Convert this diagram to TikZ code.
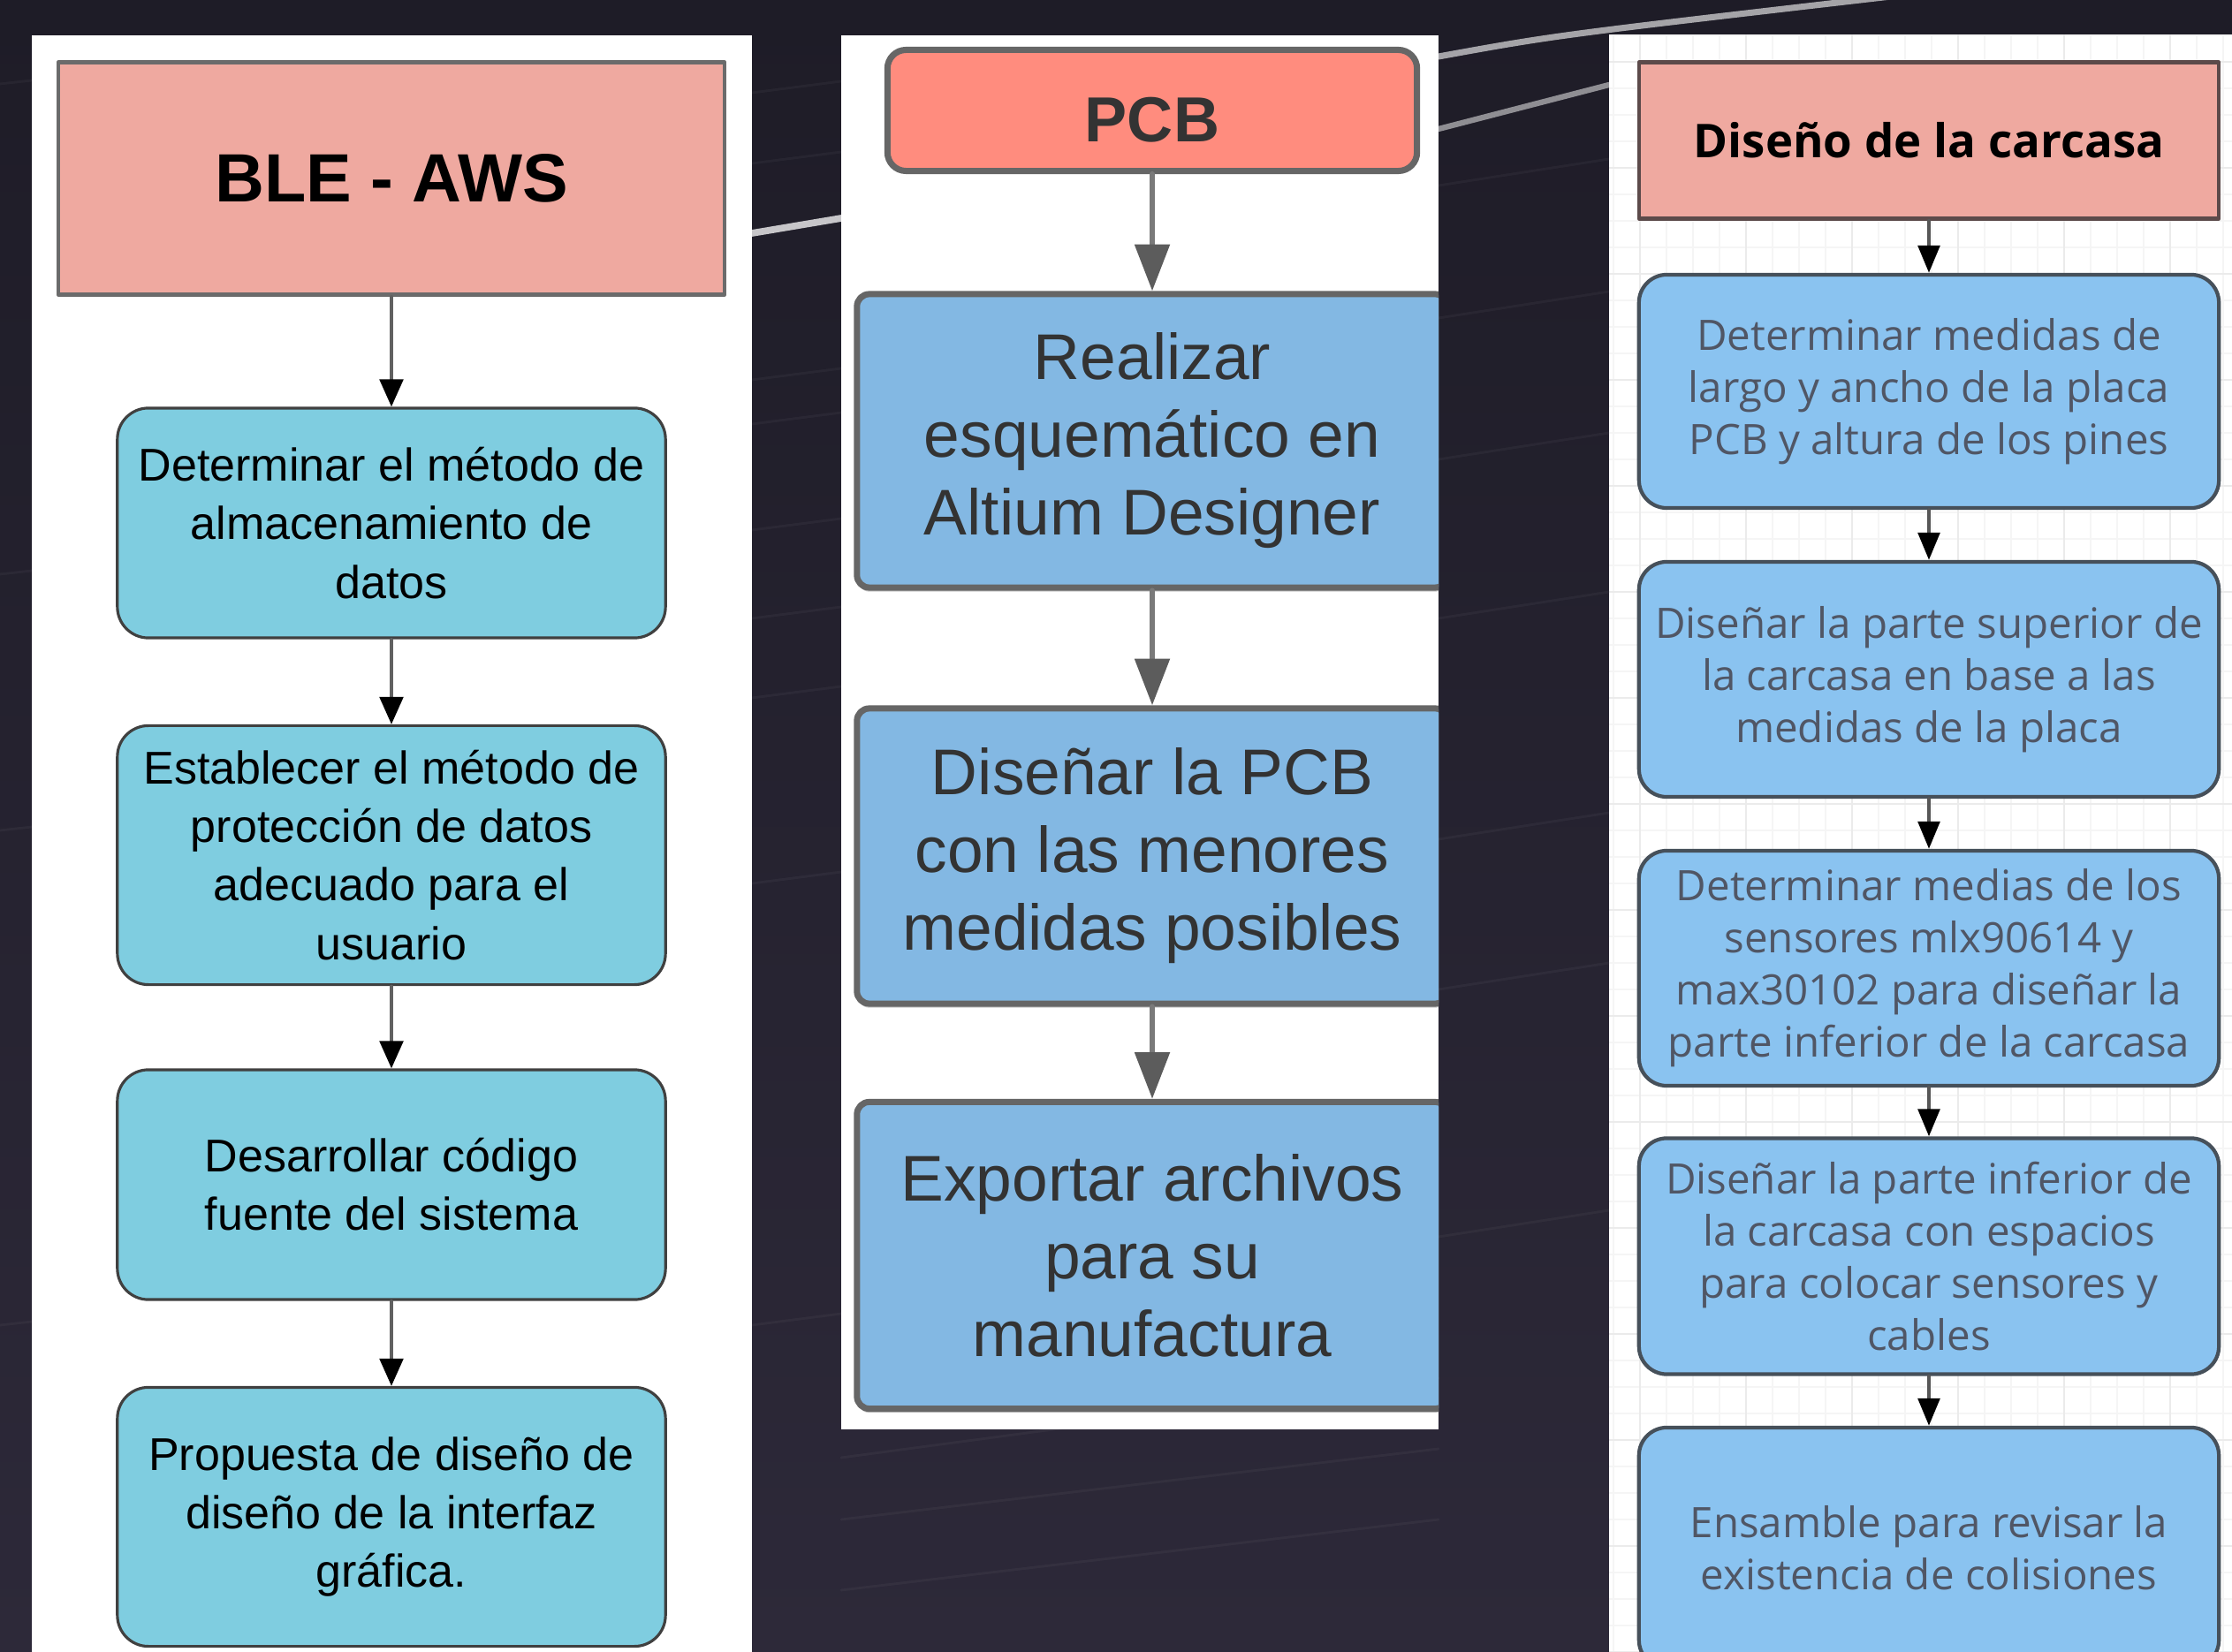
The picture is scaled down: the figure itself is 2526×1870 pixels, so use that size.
\documentclass[tikz,border=0pt]{standalone}
\usepackage{fontspec}
\setmainfont{Liberation Sans}
\newfontfamily\opensans{Open Sans}
\usetikzlibrary{arrows.meta,shadows}

\definecolor{fondo}{HTML}{1E1C27}
\definecolor{fondob}{HTML}{2D2939}
\definecolor{rosa}{HTML}{EFA9A0}
\definecolor{salmon}{HTML}{FF8C7E}
\definecolor{cian}{HTML}{7FCDE0}
\definecolor{azul}{HTML}{83B8E3}
\definecolor{celeste}{HTML}{8AC3F0}
\definecolor{borde}{HTML}{666666}
\definecolor{pizarra}{HTML}{46505A}
\definecolor{marron}{HTML}{5C4A4A}
\definecolor{texto}{HTML}{333333}
\definecolor{textoc}{HTML}{505665}

\tikzset{
  % columna BLE - AWS
  cabA/.style={draw=black!58, line width=1.2pt, fill=rosa, minimum width=7.54cm, minimum height=2.63cm,
    font=\bfseries\fontsize{22}{26}\selectfont},
  pasoA/.style={draw=black!75, line width=0.9pt, fill=cian, rounded corners=10pt, minimum width=6.2cm,
    align=center, font=\fontsize{14.8}{18.8}\selectfont},
  flechaA/.style={-{Triangle[length=8.8pt,width=7.6pt,color=black]}, draw=black!62, line width=0.9pt},
  % columna PCB
  cabB/.style={draw=borde, line width=2pt, fill=salmon, rounded corners=6pt, minimum width=5.99cm,
    minimum height=1.37cm, text height=20pt, text depth=0pt, text=texto,
    font=\bfseries\fontsize{20.5}{24}\selectfont},
  pasoB/.style={draw=borde, line width=2pt, fill=azul, rounded corners=4pt, minimum width=6.68cm,
    align=center, text=texto, font=\fontsize{20.8}{25}\selectfont,
    drop shadow={shadow xshift=0pt, shadow yshift=-1.3pt, fill=black!22, opacity=1}},
  flechaB/.style={-{Triangle[length=15pt,width=11pt,color=black!64]}, draw=black!52, line width=1.8pt},
  % columna carcasa
  cabC/.style={draw=marron, line width=1.2pt, fill=rosa, minimum width=6.56cm, minimum height=1.77cm,
    font=\opensans\bfseries\fontsize{15}{18}\selectfont},
  pasoC/.style={draw=pizarra, line width=1.2pt, fill=celeste, rounded corners=9pt, minimum width=6.56cm,
    align=center, text=textoc, font=\opensans\fontsize{13.5}{16.8}\selectfont},
  flechaC/.style={-{Triangle[length=8.8pt,width=7pt,color=black]}, draw=black!66, line width=1.1pt}
}

\begin{document}
\begin{tikzpicture}[x=0.01cm, y=-0.01cm, line join=round, line cap=round]
  \useasboundingbox (0,0) rectangle (2526,1870);
  \clip (0,0) rectangle (2526,1870);
  \shade[top color=fondo, bottom color=fondob] (0,0) rectangle (2526,1870);
  % estelas
  \foreach \xa/\ya/\xb/\yb in {0/95/36/91, 0/650/36/646, 0/940/36/936, 0/1500/36/1496,
      851/105/952/92, 851/185/952/172, 851/430/952/417, 851/480/952/467, 851/600/952/587,
      851/700/952/687, 851/790/952/777, 851/1000/952/987, 851/1500/952/1487,
      1628/210/1821/180, 1628/360/1821/330, 1628/520/1821/490, 1628/700/1821/670,
      1628/950/1821/920, 1628/1120/1821/1090, 1628/1400/1821/1370,
      952/1650/1628/1560, 952/1720/1628/1640, 952/1800/1628/1720}
    \draw[white, opacity=.04, line width=0.8pt] (\xa,\ya) -- (\xb,\yb);
  \draw[white, opacity=.75, line width=2.2pt] (851,264) -- (952,247);
  \draw[white, opacity=.6, line width=2pt] (1628,64) .. controls (1760,40) .. (2140,-4);
  \draw[white, opacity=.5, line width=1.8pt] (1628,146) -- (1821,96);
  % paneles
  \fill[white] (36,40) rectangle (851,1870);
  \fill[white] (952,40) rectangle (1628,1618);
  \fill[white] (1821,40) rectangle (2526,1870);
  \begin{scope}
    \clip (1821,40) rectangle (2526,1870);
    \foreach \gx in {1826,1856,...,2526} \draw[black!4, line width=0.5pt] (\gx,40) -- (\gx,1870);
    \foreach \gy in {40,70,...,1870} \draw[black!4, line width=0.5pt] (1821,\gy) -- (2526,\gy);
    \foreach \gx in {1856,1976,...,2526} \draw[black!8, line width=0.8pt] (\gx,40) -- (\gx,1870);
    \foreach \gy in {70,190,...,1870} \draw[black!8, line width=0.8pt] (1821,\gy) -- (2526,\gy);
  \end{scope}

  % BLE - AWS
  \node[cabA] (ble) at (443,202) {BLE - AWS};
  \node[pasoA, minimum height=2.6cm] (a1) at (443,592) {Determinar el método de\\almacenamiento de\\datos};
  \node[pasoA, minimum height=2.93cm] (a2) at (443,968) {Establecer el método de\\protección de datos\\adecuado para el\\usuario};
  \node[pasoA, minimum height=2.6cm] (a3) at (443,1341) {Desarrollar código\\fuente del sistema};
  \node[pasoA, minimum height=2.93cm] (a4) at (443,1717) {Propuesta de diseño de\\diseño de la interfaz\\gráfica.};
  \foreach \i/\j in {ble/a1, a1/a2, a2/a3, a3/a4}
    \draw[flechaA] (\i) -- (\j);

  % PCB
  \begin{scope}
    \clip (952,40) rectangle (1628,1618);
    \node[cabB] (pcb) at (1304,125) {PCB};
    \node[pasoB, minimum height=3.32cm] (b1) at (1304,499) {Realizar\\esquemático en\\Altium Designer};
    \node[pasoB, minimum height=3.34cm] (b2) at (1304,969) {Diseñar la PCB\\con las menores\\medidas posibles};
    \node[pasoB, minimum height=3.47cm] (b3) at (1304,1421) {Exportar archivos\\para su\\manufactura};
    \foreach \i/\j in {pcb/b1, b1/b2, b2/b3}
      \draw[flechaB] (\i) -- (\j);
  \end{scope}

  % Carcasa
  \node[cabC] (car) at (2183,159) {Diseño de la carcasa};
  \node[pasoC, minimum height=2.64cm] (c1) at (2183,443) {Determinar medidas de\\largo y ancho de la placa\\PCB y altura de los pines};
  \node[pasoC, minimum height=2.66cm] (c2) at (2183,769) {Diseñar la parte superior de\\la carcasa en base a las\\medidas de la placa};
  \node[pasoC, minimum height=2.66cm] (c3) at (2183,1096) {Determinar medias de los\\sensores mlx90614 y\\max30102 para diseñar la\\parte inferior de la carcasa};
  \node[pasoC, minimum height=2.67cm] (c4) at (2183,1422) {Diseñar la parte inferior de\\la carcasa con espacios\\para colocar sensores y\\cables};
  \node[pasoC, minimum height=2.72cm] (c5) at (2183,1752) {Ensamble para revisar la\\existencia de colisiones};
  \foreach \i/\j in {car/c1, c1/c2, c2/c3, c3/c4, c4/c5}
    \draw[flechaC] (\i) -- (\j);
\end{tikzpicture}
\end{document}
